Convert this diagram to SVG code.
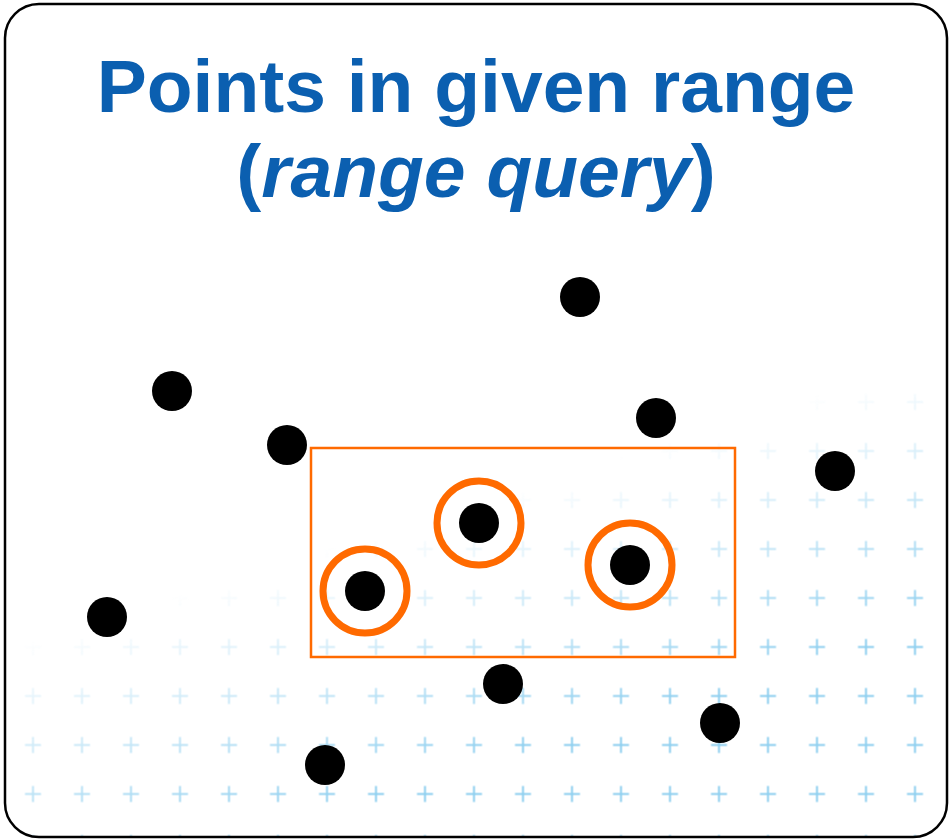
<svg xmlns="http://www.w3.org/2000/svg" width="950" height="839" viewBox="0 0 950 839">
<style>
.title{font-family:"Liberation Sans",Arial,sans-serif;font-weight:bold;fill:#0b5fb0;text-anchor:middle;font-size:75px}
.pt{fill:#000}
.ring{fill:none;stroke:#ff6a00;stroke-width:7}
.range{fill:none;stroke:#ff6a00;stroke-width:2.5}
</style>
<defs>
<pattern id="grid" patternUnits="userSpaceOnUse" x="8.5" y="377.5" width="49" height="49">
<path d="M16.5 24.5h16M24.5 16.5v16" stroke="#8fd0f0" stroke-width="2" fill="none"/>
</pattern>
<linearGradient id="fade" gradientUnits="userSpaceOnUse" x1="700" y1="431" x2="775" y2="670">
<stop offset="0" stop-color="#fff" stop-opacity="0"/>
<stop offset="1" stop-color="#fff" stop-opacity="1"/>
</linearGradient>
<mask id="m" maskUnits="userSpaceOnUse" x="0" y="0" width="950" height="839">
<rect x="0" y="0" width="950" height="839" fill="url(#fade)"/>
</mask>
<clipPath id="clip"><rect x="5" y="4" width="942" height="833" rx="34"/></clipPath>
</defs>
<rect x="5" y="4" width="942" height="833" rx="34" fill="#fff"/>
<g clip-path="url(#clip)"><rect x="0" y="350" width="950" height="489" fill="url(#grid)" mask="url(#m)"/></g>
<rect x="5" y="4" width="942" height="833" rx="34" fill="none" stroke="#000" stroke-width="2.5"/>
<g id="title">
<text class="title" x="476" y="112">Points in given range</text>
<text class="title" x="476" y="197">(<tspan font-style="italic">range query</tspan>)</text>
</g>
<g id="connectors"/>
<g id="range-box"><rect class="range" x="311" y="448" width="424" height="209"/></g>
<g id="p1"><circle class="pt" cx="580" cy="297" r="20"/></g>
<g id="p2"><circle class="pt" cx="172" cy="391" r="20"/></g>
<g id="p3"><circle class="pt" cx="656" cy="418" r="20"/></g>
<g id="p4"><circle class="pt" cx="287" cy="445" r="20"/></g>
<g id="p5"><circle class="pt" cx="835" cy="471" r="20"/></g>
<g id="p6"><circle class="ring" cx="479" cy="523" r="42"/><circle class="pt" cx="479" cy="523" r="20"/></g>
<g id="p7"><circle class="ring" cx="630" cy="565" r="42"/><circle class="pt" cx="630" cy="565" r="20"/></g>
<g id="p8"><circle class="ring" cx="365" cy="591" r="42"/><circle class="pt" cx="365" cy="591" r="20"/></g>
<g id="p9"><circle class="pt" cx="107" cy="617" r="20"/></g>
<g id="p10"><circle class="pt" cx="503" cy="684" r="20"/></g>
<g id="p11"><circle class="pt" cx="720" cy="723" r="20"/></g>
<g id="p12"><circle class="pt" cx="325" cy="765" r="20"/></g>
</svg>
